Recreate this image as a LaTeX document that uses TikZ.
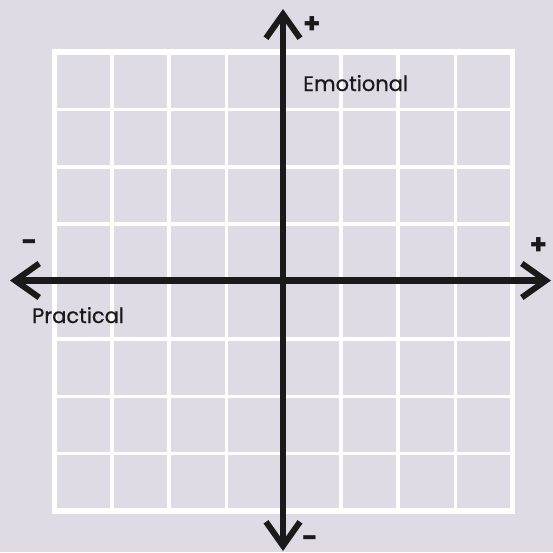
\documentclass[tikz,border=0pt]{standalone}
\usepackage{fontspec}
\setmainfont{Poppins}
\usetikzlibrary{arrows.meta}
\definecolor{bgc}{RGB}{223,219,229}
\definecolor{axc}{RGB}{26,26,26}
\tikzset{
  gridline/.style={white, line width=3.5pt},
  gridborder/.style={white, line width=5.5pt},
  axis/.style={axc, line width=6.5pt, {Straight Barb[length=24pt,width=34pt,line width=6pt]}-{Straight Barb[length=24pt,width=34pt,line width=6pt]}},
  lbl/.style={font=\fontsize{21}{24}\selectfont\addfontfeatures{FakeBold=0.6}, text=axc, inner sep=0pt},
  sign/.style={font=\fontsize{28}{30}\selectfont\bfseries, text=axc, inner sep=0pt}
}
\begin{document}
\begin{tikzpicture}[x=1pt,y=-1pt]
\fill[bgc] (0,0) rectangle (553,552);
\useasboundingbox (0,0) rectangle (553,552);
% grid
\foreach \i in {1,...,7} {
  \draw[gridline] ({54.5+\i*57.25},52) -- ({54.5+\i*57.25},511);
  \draw[gridline] (54.5,{52+\i*57.375}) -- (512.5,{52+\i*57.375});
}
\draw[gridborder] (54.5,52) rectangle (512.5,511);
% axes
\coordinate (top) at (283,9);
\coordinate (bot) at (283,551);
\coordinate (lft) at (10,280.5);
\coordinate (rgt) at (551,280.5);
\draw[axis] (bot) -- (top);
\draw[axis] (lft) -- (rgt);
% labels
\node[lbl, anchor=base west] (emo) at (303,91) {Emotional};
\node[lbl, anchor=base west] (pra) at (32,323) {Practical};
\node[sign] (ptop) at (312,25) {+};
\node[sign] (prgt) at (538.5,246.5) {+};
\node[sign] (mlft) at (29.5,245.3) {-};
\node[sign] (mbot) at (310,542) {-};
\end{tikzpicture}
\end{document}
